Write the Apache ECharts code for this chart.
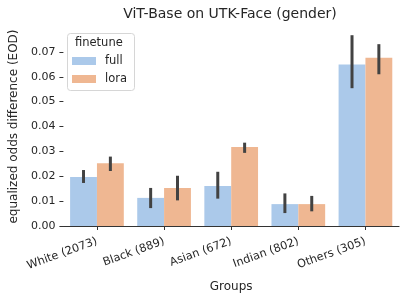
<!DOCTYPE html>
<html>
<head>
<meta charset="utf-8">
<script src="https://cdn.jsdelivr.net/npm/echarts@6/dist/echarts.min.js"></script>
<style>
html,body{margin:0;padding:0;background:#fff;}
#chart{width:408px;height:304px;}
</style>
</head>
<body>
<div id="chart"></div>
<script>
const categories = ['White (2073)', 'Black (889)', 'Asian (672)', 'Indian (802)', 'Others (305)'];
const seriesNames = ['full', 'lora'];
const fullValues = [0.0197, 0.0113, 0.0161, 0.0088, 0.0649];
const loraValues = [0.0252, 0.0153, 0.0318, 0.0088, 0.0676];
const fullLow  = [0.0173, 0.0072, 0.0110, 0.0052, 0.0554];
const fullHigh = [0.0225, 0.0153, 0.0218, 0.0131, 0.0767];
const loraLow  = [0.0221, 0.0103, 0.0294, 0.0059, 0.0610];
const loraHigh = [0.0279, 0.0202, 0.0335, 0.0121, 0.0731];
const yTicks = [0, 0.01, 0.02, 0.03, 0.04, 0.05, 0.06, 0.07];

const FONT = 'DejaVu Sans';
const TEXT = '#262626';
const colors = ['#abc9ea', '#efb792'];

function errData(lo, hi) {
  return lo.map((v, i) => [i, v, hi[i]]);
}
function errSeries(name, lo, hi, side) {
  return {
    type: 'custom',
    name: name + '_err',
    z: 5,
    silent: true,
    data: errData(lo, hi),
    renderItem: function (params, api) {
      const x = api.value(0);
      const p1 = api.coord([x, api.value(1)]);
      const p2 = api.coord([x, api.value(2)]);
      const band = api.size([1, 0])[0];
      const off = side * band * 0.2;
      return {
        type: 'line',
        shape: { x1: p1[0] + off, y1: p1[1], x2: p2[0] + off, y2: p2[1] },
        style: { stroke: '#424242', lineWidth: 3, lineCap: 'butt' }
      };
    }
  };
}

const chart = echarts.init(document.getElementById('chart'), null, { renderer: 'canvas' });
chart.setOption({
  animation: false,
  backgroundColor: '#fff',
  textStyle: { fontFamily: FONT, color: TEXT },
  title: {
    text: 'ViT-Base on UTK-Face (gender)',
    left: 230, top: 7, textAlign: 'center', padding: 0,
    textStyle: { fontFamily: FONT, fontSize: 14, fontWeight: 'normal', color: TEXT }
  },
  graphic: [
    { type: 'rect', left: 67, top: 33, z: 10,
      shape: { width: 67, height: 57, r: 3 },
      style: { fill: 'rgba(255,255,255,0.8)', stroke: '#d6d6d6', lineWidth: 1 } },
    { type: 'text', left: 75, top: 37, z: 11,
      style: { text: 'finetune', fill: TEXT, font: '11.5px "DejaVu Sans"' } }
  ],
  legend: {
    data: seriesNames,
    orient: 'vertical',
    left: 72, top: 55, padding: 0, z: 12,
    itemWidth: 24, itemHeight: 8, itemGap: 6,
    icon: 'rect',
    textStyle: { fontFamily: FONT, fontSize: 11.5, color: TEXT, lineHeight: 12, padding: [0, 0, 0, 4] }
  },
  grid: { left: 61, right: 9, top: 27, bottom: 78, containLabel: false },
  xAxis: {
    type: 'category',
    data: categories,
    name: 'Groups', nameLocation: 'middle', nameGap: 55,
    nameTextStyle: { fontFamily: FONT, fontSize: 12, color: TEXT },
    axisLine: { show: true, lineStyle: { color: '#333', width: 1.2 } },
    axisTick: { show: true, alignWithLabel: true, length: 4, lineStyle: { color: '#333', width: 1 } },
    axisLabel: { rotate: 20, margin: 15, fontFamily: FONT, fontSize: 11.3, color: TEXT, interval: 0 },
    splitLine: { show: false }
  },
  yAxis: {
    type: 'value',
    min: 0, max: 0.08, interval: 0.01,
    name: 'equalized odds difference (EOD)', nameLocation: 'middle', nameGap: 41,
    nameTextStyle: { fontFamily: FONT, fontSize: 12, color: TEXT },
    axisLine: { show: false },
    axisTick: { show: true, length: 4, customValues: yTicks, lineStyle: { color: '#333', width: 1 } },
    axisLabel: { margin: 8, fontFamily: FONT, fontSize: 11, color: TEXT, customValues: yTicks,
      formatter: v => v.toFixed(2) },
    splitLine: { show: false }
  },
  series: [
    { type: 'bar', name: 'full', data: fullValues, barWidth: '40%', barGap: '0%',
      itemStyle: { color: colors[0] } },
    { type: 'bar', name: 'lora', data: loraValues, barWidth: '40%', barGap: '0%',
      itemStyle: { color: colors[1] } },
    errSeries('full', fullLow, fullHigh, -1),
    errSeries('lora', loraLow, loraHigh, 1)
  ]
});
</script>
</body>
</html>
